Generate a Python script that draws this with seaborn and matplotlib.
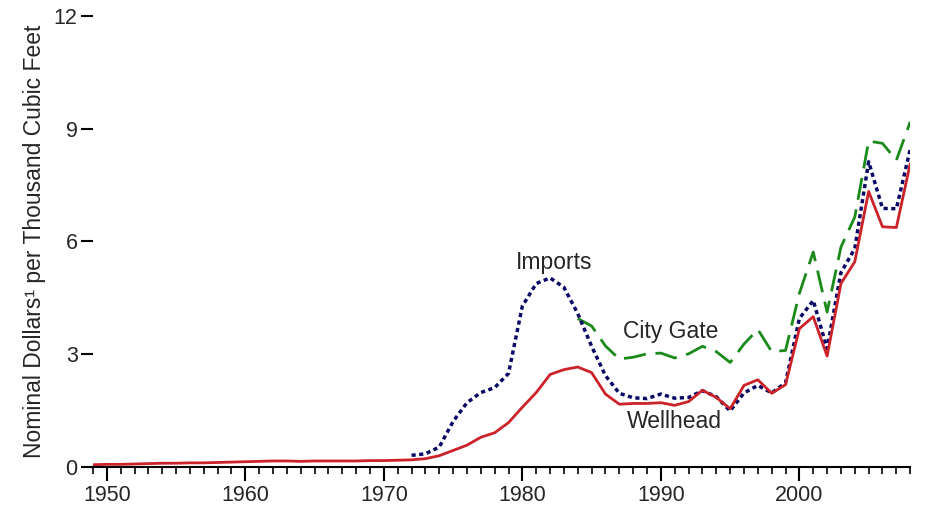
import numpy as np
import pandas as pd
import matplotlib.pyplot as plt
from matplotlib.ticker import MultipleLocator
import seaborn as sns

# Natural gas prices, nominal dollars per thousand cubic feet
wellhead_years = list(range(1949, 2009))
wellhead = [0.06, 0.07, 0.07, 0.08, 0.09, 0.10, 0.10, 0.11, 0.11, 0.12,
            0.13, 0.14, 0.15, 0.16, 0.16, 0.15, 0.16, 0.16, 0.16, 0.16,
            0.17, 0.17, 0.18, 0.19, 0.22, 0.30, 0.44, 0.58, 0.79, 0.91,
            1.18, 1.59, 1.98, 2.46, 2.59, 2.66, 2.51, 1.94, 1.67, 1.69,
            1.69, 1.71, 1.64, 1.74, 2.04, 1.85, 1.55, 2.17, 2.32, 1.96,
            2.19, 3.68, 4.00, 2.95, 4.88, 5.46, 7.33, 6.39, 6.37, 8.07]

imports_years = list(range(1972, 2009))
imports = [0.31, 0.35, 0.53, 1.21, 1.71, 1.98, 2.11, 2.49, 4.28, 4.88,
           5.03, 4.78, 4.08, 3.21, 2.43, 1.96, 1.84, 1.82, 1.94, 1.83,
           1.85, 2.03, 1.87, 1.49, 1.97, 2.17, 1.97, 2.24, 3.95, 4.43,
           3.15, 5.17, 5.81, 8.12, 6.88, 6.87, 8.45]

citygate_years = list(range(1984, 2009))
citygate = [3.95, 3.75, 3.22, 2.87, 2.92, 3.01, 3.03, 2.90, 3.01, 3.21,
            3.07, 2.78, 3.27, 3.66, 3.07, 3.10, 4.62, 5.72, 4.12, 5.85,
            6.65, 8.67, 8.61, 8.16, 9.18]

y_ticks = [0, 3, 6, 9, 12]
x_ticks = [1950, 1960, 1970, 1980, 1990, 2000]

sns.set_style("white")
plt.rcParams['font.family'] = ['Liberation Sans', 'DejaVu Sans']
tick_font = ['Liberation Sans Narrow', 'Liberation Sans', 'DejaVu Sans']

fig = plt.figure(figsize=(9.25, 5.13), dpi=100)
ax = fig.add_axes([0.1005, 0.0897, 0.8835, 0.8793])

df_w = pd.DataFrame({'Year': wellhead_years, 'Price': wellhead})
df_i = pd.DataFrame({'Year': imports_years, 'Price': imports})
df_c = pd.DataFrame({'Year': citygate_years, 'Price': citygate})

sns.lineplot(data=df_c, x='Year', y='Price', ax=ax, color='#1a8a1a',
             linewidth=2)
ax.lines[-1].set_dashes([8, 3.5])
sns.lineplot(data=df_i, x='Year', y='Price', ax=ax, color='#0a0a66',
             linewidth=2.5)
ax.lines[-1].set_dashes([1.2, 1.0])
sns.lineplot(data=df_w, x='Year', y='Price', ax=ax, color='#cc2229',
             linewidth=2)

ax.text(1982.3, 5.45, 'Imports', ha='center', va='center', fontsize=16.5)
ax.text(1990.7, 3.6, 'City Gate', ha='center', va='center', fontsize=16.5)
ax.text(1991.0, 1.2, 'Wellhead', ha='center', va='center', fontsize=16.5)

ax.set_xlim(1949, 2008)
ax.set_ylim(0, 12)
ax.set_yticks(y_ticks)
ax.set_xticks(x_ticks)
ax.xaxis.set_minor_locator(MultipleLocator(1))

for s in ['top', 'right', 'left']:
    ax.spines[s].set_visible(False)
ax.spines['bottom'].set_color('black')
ax.spines['bottom'].set_linewidth(1.5)

ax.tick_params(axis='y', which='major', left=True, length=9, width=1.5,
               color='black', pad=2)
ax.tick_params(axis='x', which='major', bottom=True, length=10, width=1.5,
               color='black', pad=3, direction='out')
ax.tick_params(axis='x', which='minor', bottom=True, length=5, width=1.2,
               color='black', direction='out')
for lab in ax.get_xticklabels() + ax.get_yticklabels():
    lab.set_fontfamily(tick_font)
    lab.set_fontsize(15.5)

ax.set_xlabel('')
ax.set_ylabel('Nominal Dollars¹ per Thousand Cubic Feet', fontsize=16.5)
ax.yaxis.set_label_coords(-0.058, 0.5)
ax.grid(False)

fig.savefig('out.png', dpi=100)
